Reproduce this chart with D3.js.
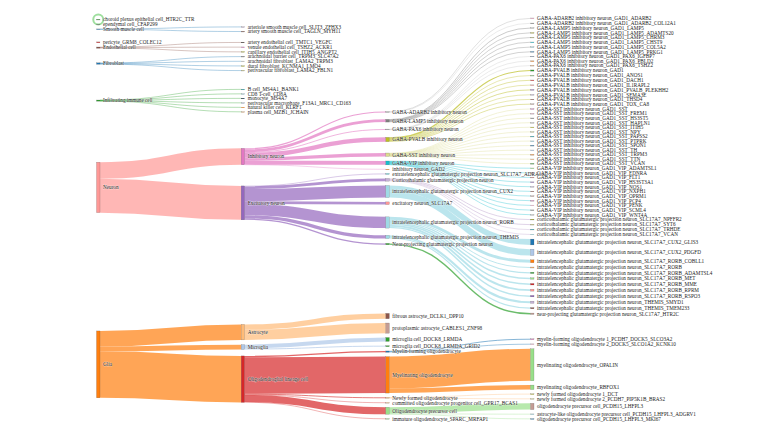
<!DOCTYPE html>
<html>
<head>
<meta charset="utf-8">
<script src="https://cdn.jsdelivr.net/npm/d3@7"></script>
<style>
  body { margin: 0; background: #fff; }
  svg text { font-family: "Liberation Serif", "DejaVu Serif", serif; }
</style>
</head>
<body>
<div id="chart"></div>
<script>
// ---- data ----
// node order inside each column (top to bottom)
var nodeNames = [
  // level 0
  "choroid plexus epithelial cell_HTR2C_TTR", "ependymal cell_CFAP299", "Smooth muscle cell",
  "pericyte_GRM8_COLEC12", "Endothelial cell", "Fibroblast", "Infiltrating immune cell", "Neuron", "Glia",
  // level 1
  "arteriole smooth muscle cell_SLIT3_ZFHX3", "artery smooth muscle cell_TAGLN_MYH11",
  "artery endothelial cell_TMTC1_VEGFC", "venule endothelial cell_TSHZ2_ACKR1", "capillary endothelial cell_ITIH5_ANGPT2",
  "arachnoidal barrier cell_TRPM3_SLC47A2", "arachnoidal fibroblast_LAMA2_TRPM3", "dural fibroblast_KCNMA1_LMO4",
  "perivascular fibroblast_LAMA2_FBLN1", "B cell_MS4A1_BANK1", "CD8 T-cell_CD8A", "monocyte_MS4A7",
  "perivascular macrophage_F13A1_MRC1_CD163", "natural killer cell_KLRF1", "plasma cell_MZB1_JCHAIN",
  "Inhibitory neuron", "Excitatory neuron", "Astrocyte", "Microglia", "Oligodendroglial lineage cell",
  // level 2
  "GABA-ADARB2 inhibitory neuron", "GABA-LAMP5 inhibitory neuron", "GABA-PAX6 inhibitory neuron",
  "GABA-PVALB inhibitory neuron", "GABA-SST inhibitory neuron", "GABA-VIP inhibitory neuron", "inhibitory neuron_GAD2",
  "extratelencephalic glutamatergic projection neuron_SLC17A7_ADRA1A", "Corticothalamic glutamatergic projection neuron",
  "intratelencephalic glutamatergic projection neuron_CUX2", "excitatory neuron_SLC17A7",
  "intratelencephalic glutamatergic projection neuron_RORB", "intratelencephalic glutamatergic projection neuron_THEMIS",
  "Near-projecting glutamatergic projection neuron", "fibrous astrocyte_DCLK1_DPP10", "protoplasmic astrocyte_CABLES1_ZNF98",
  "microglia cell_DOCK8_LRMDA", "microglia cell_DOCK8_LRMDA_GRID2", "Myelin-forming oligodendrocyte",
  "Myelinating oligodendrocyte", "Newly formed oligodendrocyte", "committed oligodendrocyte progenitor cell_GPR17_BCAS1",
  "Oligodendrocyte precursor cell", "immature oligodendrocyte_SPARC_MRFAP1"
];

// nodes without any flow, with their own size
var soloNodes = [
  ["choroid plexus epithelial cell_HTR2C_TTR", 0.5],
  ["ependymal cell_CFAP299", 0.5],
  ["pericyte_GRM8_COLEC12", 0.8]
];

var inhLeaves = [
  ["GABA-ADARB2 inhibitory neuron", "GABA-ADARB2 inhibitory neuron_GAD1_ADARB2", 0.8],
  ["GABA-ADARB2 inhibitory neuron", "GABA-ADARB2 inhibitory neuron_GAD1_ADARB2_COL12A1", 0.4],
  ["GABA-LAMP5 inhibitory neuron", "GABA-LAMP5 inhibitory neuron_GAD1_LAMP5", 0.6],
  ["GABA-LAMP5 inhibitory neuron", "GABA-LAMP5 inhibitory neuron_GAD1_LAMP5_ADAMTS20", 0.4],
  ["GABA-LAMP5 inhibitory neuron", "GABA-LAMP5 inhibitory neuron_GAD1_LAMP5_CHRM3", 0.4],
  ["GABA-LAMP5 inhibitory neuron", "GABA-LAMP5 inhibitory neuron_GAD1_LAMP5_CHST9", 0.5],
  ["GABA-LAMP5 inhibitory neuron", "GABA-LAMP5 inhibitory neuron_GAD1_LAMP5_COL5A2", 0.5],
  ["GABA-LAMP5 inhibitory neuron", "GABA-LAMP5 inhibitory neuron_GAD1_LAMP5_PRKG1", 0.4],
  ["GABA-PAX6 inhibitory neuron", "GABA-PAX6 inhibitory neuron_GAD1_PAX6_IGFBP7", 0.3],
  ["GABA-PAX6 inhibitory neuron", "GABA-PAX6 inhibitory neuron_GAD1_PAX6_PBLD2", 0.3],
  ["GABA-PAX6 inhibitory neuron", "GABA-PAX6 inhibitory neuron_GAD1_PAX6_TSHZ2", 0.2],
  ["GABA-PVALB inhibitory neuron", "GABA-PVALB inhibitory neuron_GAD1", 1.2],
  ["GABA-PVALB inhibitory neuron", "GABA-PVALB inhibitory neuron_GAD1_ANOS1", 0.3],
  ["GABA-PVALB inhibitory neuron", "GABA-PVALB inhibitory neuron_GAD1_DACH1", 0.6],
  ["GABA-PVALB inhibitory neuron", "GABA-PVALB inhibitory neuron_GAD1_IL1RAPL2", 0.4],
  ["GABA-PVALB inhibitory neuron", "GABA-PVALB inhibitory neuron_GAD1_PVALB_PLEKHH2", 0.7],
  ["GABA-PVALB inhibitory neuron", "GABA-PVALB inhibitory neuron_GAD1_SEMA3E", 0.4],
  ["GABA-PVALB inhibitory neuron", "GABA-PVALB inhibitory neuron_GAD1_THSD4", 0.3],
  ["GABA-PVALB inhibitory neuron", "GABA-PVALB inhibitory neuron_GAD1_TOX_CA8", 0.6],
  ["GABA-SST inhibitory neuron", "GABA-SST inhibitory neuron_GAD1_SST", 0.5],
  ["GABA-SST inhibitory neuron", "GABA-SST inhibitory neuron_GAD1_SST_FREM1", 0.2],
  ["GABA-SST inhibitory neuron", "GABA-SST inhibitory neuron_GAD1_SST_HS3ST5", 0.3],
  ["GABA-SST inhibitory neuron", "GABA-SST inhibitory neuron_GAD1_SST_HAPLN1", 0.2],
  ["GABA-SST inhibitory neuron", "GABA-SST inhibitory neuron_GAD1_SST_ITIH5", 0.3],
  ["GABA-SST inhibitory neuron", "GABA-SST inhibitory neuron_GAD1_SST_NPY", 0.4],
  ["GABA-SST inhibitory neuron", "GABA-SST inhibitory neuron_GAD1_SST_PAPSS2", 0.3],
  ["GABA-SST inhibitory neuron", "GABA-SST inhibitory neuron_GAD1_SST_PTPRK", 0.2],
  ["GABA-SST inhibitory neuron", "GABA-SST inhibitory neuron_GAD1_SST_SPON1", 0.3],
  ["GABA-SST inhibitory neuron", "GABA-SST inhibitory neuron_GAD1_SST_TH", 0.2],
  ["GABA-SST inhibitory neuron", "GABA-SST inhibitory neuron_GAD1_SST_TRPM3", 0.2],
  ["GABA-SST inhibitory neuron", "GABA-SST inhibitory neuron_GAD1_SST_TTN", 0.2],
  ["GABA-SST inhibitory neuron", "GABA-SST inhibitory neuron_GAD1_SST_VCAN", 0.2],
  ["GABA-VIP inhibitory neuron", "GABA-VIP inhibitory neuron_GAD1_VIP_ADAMTSL1", 0.4],
  ["GABA-VIP inhibitory neuron", "GABA-VIP inhibitory neuron_GAD1_VIP_EDNRA", 0.3],
  ["GABA-VIP inhibitory neuron", "GABA-VIP inhibitory neuron_GAD1_VIP_FLT1", 0.3],
  ["GABA-VIP inhibitory neuron", "GABA-VIP inhibitory neuron_GAD1_VIP_HS3ST3A1", 0.4],
  ["GABA-VIP inhibitory neuron", "GABA-VIP inhibitory neuron_GAD1_VIP_NOS1", 0.3],
  ["GABA-VIP inhibitory neuron", "GABA-VIP inhibitory neuron_GAD1_VIP_NXPH1", 0.4],
  ["GABA-VIP inhibitory neuron", "GABA-VIP inhibitory neuron_GAD1_VIP_OPRM1", 0.4],
  ["GABA-VIP inhibitory neuron", "GABA-VIP inhibitory neuron_GAD1_VIP_PCP4", 0.3],
  ["GABA-VIP inhibitory neuron", "GABA-VIP inhibitory neuron_GAD1_VIP_PENK", 0.5],
  ["GABA-VIP inhibitory neuron", "GABA-VIP inhibitory neuron_GAD1_VIP_SCML4", 0.4],
  ["GABA-VIP inhibitory neuron", "GABA-VIP inhibitory neuron_GAD1_VIP_WNT4A", 0.3]
];

var excLeaves = [
  ["Corticothalamic glutamatergic projection neuron", "corticothalamic glutamatergic projection neuron_SLC17A7_NPFFR2", 0.8],
  ["Corticothalamic glutamatergic projection neuron", "corticothalamic glutamatergic projection neuron_SLC17A7_SYT6", 0.8],
  ["Corticothalamic glutamatergic projection neuron", "corticothalamic glutamatergic projection neuron_SLC17A7_TRHDE", 0.6],
  ["Corticothalamic glutamatergic projection neuron", "corticothalamic glutamatergic projection neuron_SLC17A7_VCAN", 0.6],
  ["intratelencephalic glutamatergic projection neuron_CUX2", "intratelencephalic glutamatergic projection neuron_SLC17A7_CUX2_GLIS3", 6],
  ["intratelencephalic glutamatergic projection neuron_CUX2", "intratelencephalic glutamatergic projection neuron_SLC17A7_CUX2_PDGFD", 6.5],
  ["intratelencephalic glutamatergic projection neuron_RORB", "intratelencephalic glutamatergic projection neuron_SLC17A7_RORB_COBLL1", 3],
  ["intratelencephalic glutamatergic projection neuron_RORB", "intratelencephalic glutamatergic projection neuron_SLC17A7_RORB", 1],
  ["intratelencephalic glutamatergic projection neuron_RORB", "intratelencephalic glutamatergic projection neuron_SLC17A7_RORB_ADAMTSL4", 1.2],
  ["intratelencephalic glutamatergic projection neuron_RORB", "intratelencephalic glutamatergic projection neuron_SLC17A7_RORB_MET", 1.5],
  ["intratelencephalic glutamatergic projection neuron_RORB", "intratelencephalic glutamatergic projection neuron_SLC17A7_RORB_MME", 1.5],
  ["intratelencephalic glutamatergic projection neuron_RORB", "intratelencephalic glutamatergic projection neuron_SLC17A7_RORB_RPRM", 1.9],
  ["intratelencephalic glutamatergic projection neuron_RORB", "intratelencephalic glutamatergic projection neuron_SLC17A7_RORB_RSPO3", 1.5],
  ["intratelencephalic glutamatergic projection neuron_THEMIS", "intratelencephalic glutamatergic projection neuron_THEMIS_SMYD1", 2.2],
  ["intratelencephalic glutamatergic projection neuron_THEMIS", "intratelencephalic glutamatergic projection neuron_THEMIS_TMEM233", 1.2],
  ["Near-projecting glutamatergic projection neuron", "near-projecting glutamatergic projection neuron_SLC17A7_HTR2C", 1.4]
];

var gliaLeaves = [
  ["Myelin-forming oligodendrocyte", "myelin-forming oligodendrocyte 1_PCDH7_DOCK5_SLCO3A2", 0.8],
  ["Myelin-forming oligodendrocyte", "myelin-forming oligodendrocyte 2_DOCK5_SLCO1A2_KCNK10", 0.6],
  ["Myelinating oligodendrocyte", "myelinating oligodendrocyte_OPALIN", 33],
  ["Myelinating oligodendrocyte", "myelinating oligodendrocyte_RBFOX1", 4.6],
  ["Newly formed oligodendrocyte", "newly formed oligodendrocyte 1_DCT", 0.5],
  ["Newly formed oligodendrocyte", "newly formed oligodendrocyte 2_PCDH7_PIP5K1B_BRAS2", 0.4],
  ["Oligodendrocyte precursor cell", "oligodendrocyte precursor cell_PCDH15_LHFPL3", 6.5],
  ["Oligodendrocyte precursor cell", "astrocyte-like oligodendrocyte precursor cell_PCDH15_LHFPL3_ADGRV1", 0.5],
  ["Oligodendrocyte precursor cell", "oligodendrocyte precursor cell_PCDH15_LHFPL3_MKI67", 0.3]
];

var upperFlows = [
  ["Smooth muscle cell", "arteriole smooth muscle cell_SLIT3_ZFHX3", 0.3],
  ["Smooth muscle cell", "artery smooth muscle cell_TAGLN_MYH11", 0.3],
  ["Endothelial cell", "artery endothelial cell_TMTC1_VEGFC", 0.4],
  ["Endothelial cell", "venule endothelial cell_TSHZ2_ACKR1", 0.4],
  ["Endothelial cell", "capillary endothelial cell_ITIH5_ANGPT2", 0.5],
  ["Fibroblast", "arachnoidal barrier cell_TRPM3_SLC47A2", 0.4],
  ["Fibroblast", "arachnoidal fibroblast_LAMA2_TRPM3", 0.4],
  ["Fibroblast", "dural fibroblast_KCNMA1_LMO4", 0.3],
  ["Fibroblast", "perivascular fibroblast_LAMA2_FBLN1", 0.4],
  ["Infiltrating immune cell", "B cell_MS4A1_BANK1", 0.2],
  ["Infiltrating immune cell", "CD8 T-cell_CD8A", 0.2],
  ["Infiltrating immune cell", "monocyte_MS4A7", 0.2],
  ["Infiltrating immune cell", "perivascular macrophage_F13A1_MRC1_CD163", 0.2],
  ["Infiltrating immune cell", "natural killer cell_KLRF1", 0.2],
  ["Infiltrating immune cell", "plasma cell_MZB1_JCHAIN", 0.2],
  ["Neuron", "Inhibitory neuron", 17],
  ["Neuron", "Excitatory neuron", 35],
  ["Glia", "Astrocyte", 16],
  ["Glia", "Microglia", 5],
  ["Glia", "Oligodendroglial lineage cell", 48],
  ["Inhibitory neuron", "GABA-ADARB2 inhibitory neuron", 1.2],
  ["Inhibitory neuron", "GABA-LAMP5 inhibitory neuron", 2.8],
  ["Inhibitory neuron", "GABA-PAX6 inhibitory neuron", 0.8],
  ["Inhibitory neuron", "GABA-PVALB inhibitory neuron", 4.5],
  ["Inhibitory neuron", "GABA-SST inhibitory neuron", 3.5],
  ["Inhibitory neuron", "GABA-VIP inhibitory neuron", 4.0],
  ["Inhibitory neuron", "inhibitory neuron_GAD2", 0.2],
  ["Excitatory neuron", "extratelencephalic glutamatergic projection neuron_SLC17A7_ADRA1A", 0.5],
  ["Excitatory neuron", "Corticothalamic glutamatergic projection neuron", 2.8],
  ["Excitatory neuron", "intratelencephalic glutamatergic projection neuron_CUX2", 12.5],
  ["Excitatory neuron", "excitatory neuron_SLC17A7", 2.8],
  ["Excitatory neuron", "intratelencephalic glutamatergic projection neuron_RORB", 11.6],
  ["Excitatory neuron", "intratelencephalic glutamatergic projection neuron_THEMIS", 3.4],
  ["Excitatory neuron", "Near-projecting glutamatergic projection neuron", 1.4],
  ["Astrocyte", "fibrous astrocyte_DCLK1_DPP10", 5.5],
  ["Astrocyte", "protoplasmic astrocyte_CABLES1_ZNF98", 10.5],
  ["Microglia", "microglia cell_DOCK8_LRMDA", 4],
  ["Microglia", "microglia cell_DOCK8_LRMDA_GRID2", 1],
  ["Oligodendroglial lineage cell", "Myelin-forming oligodendrocyte", 1.4],
  ["Oligodendroglial lineage cell", "Myelinating oligodendrocyte", 37.6],
  ["Oligodendroglial lineage cell", "Newly formed oligodendrocyte", 0.9],
  ["Oligodendroglial lineage cell", "committed oligodendrocyte progenitor cell_GPR17_BCAS1", 0.4],
  ["Oligodendroglial lineage cell", "Oligodendrocyte precursor cell", 7.3],
  ["Oligodendroglial lineage cell", "immature oligodendrocyte_SPARC_MRFAP1", 0.4]
];

// ---- style ----
var palette = ["#1f77b4", "#aec7e8", "#ff7f0e", "#ffbb78", "#2ca02c", "#98df8a", "#d62728", "#ff9896",
  "#9467bd", "#c5b0d5", "#8c564b", "#c49c94", "#e377c2", "#f7b6d2", "#7f7f7f", "#c7c7c7",
  "#bcbd22", "#dbdb8d", "#17becf", "#9edae5"];
var colorOf = {
  "choroid plexus epithelial cell_HTR2C_TTR": 4, "ependymal cell_CFAP299": 14, "Smooth muscle cell": 0,
  "pericyte_GRM8_COLEC12": 6, "Endothelial cell": 10, "Fibroblast": 0, "Infiltrating immune cell": 4,
  "Neuron": 7, "Glia": 2, "Inhibitory neuron": 12, "Excitatory neuron": 8, "Astrocyte": 3, "Microglia": 1,
  "Oligodendroglial lineage cell": 6, "capillary endothelial cell_ITIH5_ANGPT2": 16,
  "GABA-ADARB2 inhibitory neuron": 15, "GABA-LAMP5 inhibitory neuron": 14, "GABA-PAX6 inhibitory neuron": 15,
  "GABA-PVALB inhibitory neuron": 16, "GABA-SST inhibitory neuron": 17, "GABA-VIP inhibitory neuron": 18,
  "inhibitory neuron_GAD2": 2, "extratelencephalic glutamatergic projection neuron_SLC17A7_ADRA1A": 18,
  "Corticothalamic glutamatergic projection neuron": 9, "intratelencephalic glutamatergic projection neuron_CUX2": 19,
  "excitatory neuron_SLC17A7": 7, "intratelencephalic glutamatergic projection neuron_RORB": 19,
  "intratelencephalic glutamatergic projection neuron_THEMIS": 19, "Near-projecting glutamatergic projection neuron": 4,
  "fibrous astrocyte_DCLK1_DPP10": 10, "protoplasmic astrocyte_CABLES1_ZNF98": 11,
  "microglia cell_DOCK8_LRMDA": 4, "microglia cell_DOCK8_LRMDA_GRID2": 4,
  "Myelin-forming oligodendrocyte": 0, "Myelinating oligodendrocyte": 2, "Newly formed oligodendrocyte": 3,
  "committed oligodendrocyte progenitor cell_GPR17_BCAS1": 3, "Oligodendrocyte precursor cell": 5,
  "immature oligodendrocyte_SPARC_MRFAP1": 5,
  "myelinating oligodendrocyte_OPALIN": 5, "myelinating oligodendrocyte_RBFOX1": 5,
  "oligodendrocyte precursor cell_PCDH15_LHFPL3": 11
};

var svgWidth = 776, svgHeight = 436;
var x0 = 96.5, x1 = 534, y0 = 18, y1 = 419;
var nodeWidth = 3.5, nodePad = 4.3, scalePad = 4.6, iterations = 32;
var spreadShare = 0.25;   // share of spare room handed out before relaxing

// ---- build graph ----
var flows = upperFlows.concat(inhLeaves, excLeaves, gliaLeaves);
var allNames = nodeNames.concat(inhLeaves.map(d => d[1]), excLeaves.map(d => d[1]), gliaLeaves.map(d => d[1]));
var nodes = allNames.map(function(name, i) {
  var ci = colorOf[name];
  return {name: name, index: i, sourceLinks: [], targetLinks: [], depth: 0,
          color: palette[ci === undefined ? i % 20 : ci]};
});
var byName = new Map(nodes.map(d => [d.name, d]));
var links = flows.map(f => ({source: byName.get(f[0]), target: byName.get(f[1]), value: f[2]}));
links.forEach(function(l) { l.source.sourceLinks.push(l); l.target.targetLinks.push(l); });
var solo = new Map(soloNodes);
nodes.forEach(function(n) {
  n.value = Math.max(d3.sum(n.sourceLinks, l => l.value), d3.sum(n.targetLinks, l => l.value), solo.get(n.name) || 0);
});

// depth = longest path from a source
var changed = true;
while (changed) {
  changed = false;
  links.forEach(function(l) {
    if (l.target.depth < l.source.depth + 1) { l.target.depth = l.source.depth + 1; changed = true; }
  });
}
var nCols = d3.max(nodes, d => d.depth) + 1;
var xCol = d3.scaleLinear().domain([0, nCols - 1]).range([x0, x1 - nodeWidth]);
nodes.forEach(function(n) { n.x0 = xCol(n.depth); n.x1 = n.x0 + nodeWidth; });
var columns = d3.range(nCols).map(c => nodes.filter(n => n.depth === c));

var ky = d3.min(columns, c => (y1 - y0 - (c.length - 1) * scalePad) / d3.sum(c, d => d.value));
var vScale = d3.scaleLinear().domain([0, 1]).range([0, ky]);
links.forEach(l => l.width = vScale(l.value));

// stack each column, handing out part of the spare room
columns.forEach(function(col) {
  var y = y0;
  col.forEach(function(n) { n.y0 = y; n.y1 = y + vScale(n.value); y = n.y1 + nodePad; });
  var extra = spreadShare * (y1 - y + nodePad) / (col.length + 1);
  col.forEach(function(n, i) { n.y0 += extra * (i + 1); n.y1 += extra * (i + 1); });
});
function reorderLinks() {
  nodes.forEach(function(n) {
    n.sourceLinks.sort((a, b) => a.target.y0 - b.target.y0);
    n.targetLinks.sort((a, b) => a.source.y0 - b.source.y0);
  });
}
reorderLinks();

function targetTop(source, target) {
  var y = source.y0 - (source.sourceLinks.length - 1) * nodePad / 2;
  for (var l of source.sourceLinks) { if (l.target === target) break; y += l.width + nodePad; }
  for (var l2 of target.targetLinks) { if (l2.source === source) break; y -= l2.width; }
  return y;
}
function sourceTop(source, target) {
  var y = target.y0 - (target.targetLinks.length - 1) * nodePad / 2;
  for (var l of target.targetLinks) { if (l.source === source) break; y += l.width + nodePad; }
  for (var l2 of source.sourceLinks) { if (l2.target === target) break; y -= l2.width; }
  return y;
}
function pushDown(col, y, i, alpha) {
  for (; i < col.length; ++i) {
    var n = col[i], dy = (y - n.y0) * alpha;
    if (dy > 1e-6) { n.y0 += dy; n.y1 += dy; }
    y = n.y1 + nodePad;
  }
}
function pushUp(col, y, i, alpha) {
  for (; i >= 0; --i) {
    var n = col[i], dy = (n.y1 - y) * alpha;
    if (dy > 1e-6) { n.y0 -= dy; n.y1 -= dy; }
    y = n.y0 - nodePad;
  }
}
function resolveCollisions(col, alpha) {
  var i = col.length >> 1, s = col[i];
  pushUp(col, s.y0 - nodePad, i - 1, alpha);
  pushDown(col, s.y1 + nodePad, i + 1, alpha);
  pushUp(col, y1, col.length - 1, alpha);
  pushDown(col, y0, 0, alpha);
}

for (var it = 0; it < iterations; ++it) {
  var alpha = Math.pow(0.99, it);
  var beta = Math.max(1 - alpha, (it + 1) / iterations);
  for (var c = nCols - 2; c >= 0; --c) {
    columns[c].forEach(function(s) {
      var y = 0, w = 0;
      s.sourceLinks.forEach(function(l) {
        var v = l.value * (l.target.depth - s.depth);
        y += sourceTop(s, l.target) * v; w += v;
      });
      if (w > 0) { var dy = (y / w - s.y0) * alpha; s.y0 += dy; s.y1 += dy; }
    });
    reorderLinks();
    resolveCollisions(columns[c], beta);
  }
  for (var c2 = 1; c2 < nCols; ++c2) {
    columns[c2].forEach(function(t) {
      var y = 0, w = 0;
      t.targetLinks.forEach(function(l) {
        var v = l.value * (t.depth - l.source.depth);
        y += targetTop(l.source, t) * v; w += v;
      });
      if (w > 0) { var dy = (y / w - t.y0) * alpha; t.y0 += dy; t.y1 += dy; }
    });
    reorderLinks();
    resolveCollisions(columns[c2], beta);
  }
}
reorderLinks();
nodes.forEach(function(n) {
  var ys = n.y0, yt = n.y0;
  n.sourceLinks.forEach(function(l) { l.y0 = ys + l.width / 2; ys += l.width; });
  n.targetLinks.forEach(function(l) { l.y1 = yt + l.width / 2; yt += l.width; });
});

// ---- draw ----
var svg = d3.select("#chart")
  .append("svg")
  .attr("width", svgWidth)
  .attr("height", svgHeight);

var linkPath = d3.linkHorizontal()
  .source(d => [d.source.x1, d.y0])
  .target(d => [d.target.x0, d.y1]);

svg.append("g")
  .attr("fill", "none")
  .selectAll("path")
  .data(links)
  .enter()
  .append("path")
  .attr("d", linkPath)
  .attr("stroke", d => d.source.color)
  .attr("stroke-opacity", 0.7)
  .attr("stroke-width", d => Math.max(0.5, d.width));

// highlight ring on the first node
var ringNode = byName.get("choroid plexus epithelial cell_HTR2C_TTR");
svg.append("circle")
  .attr("cx", (ringNode.x0 + ringNode.x1) / 2)
  .attr("cy", (ringNode.y0 + ringNode.y1) / 2)
  .attr("r", 5)
  .attr("fill", "#fff")
  .attr("stroke", "#9fdf9f")
  .attr("stroke-width", 2);

svg.append("g")
  .selectAll("rect")
  .data(nodes)
  .enter()
  .append("rect")
  .attr("x", d => d.x0)
  .attr("y", d => d.y0)
  .attr("width", nodeWidth)
  .attr("height", d => Math.max(0.6, d.y1 - d.y0))
  .attr("fill", d => d.color)
  .attr("stroke", "#444")
  .attr("stroke-width", 0.3)
  .attr("stroke-opacity", 0.6);

svg.append("g")
  .selectAll("text")
  .data(nodes)
  .enter()
  .append("text")
  .attr("x", d => d.x1 + 3)
  .attr("y", d => (d.y0 + d.y1) / 2)
  .attr("dy", "0.35em")
  .attr("font-size", "5.2px")
  .attr("fill", "#222")
  .attr("stroke", "#fff")
  .attr("stroke-width", 0.5)
  .attr("stroke-opacity", 0.7)
  .attr("paint-order", "stroke")
  .text(d => d.name);
</script>
</body>
</html>
